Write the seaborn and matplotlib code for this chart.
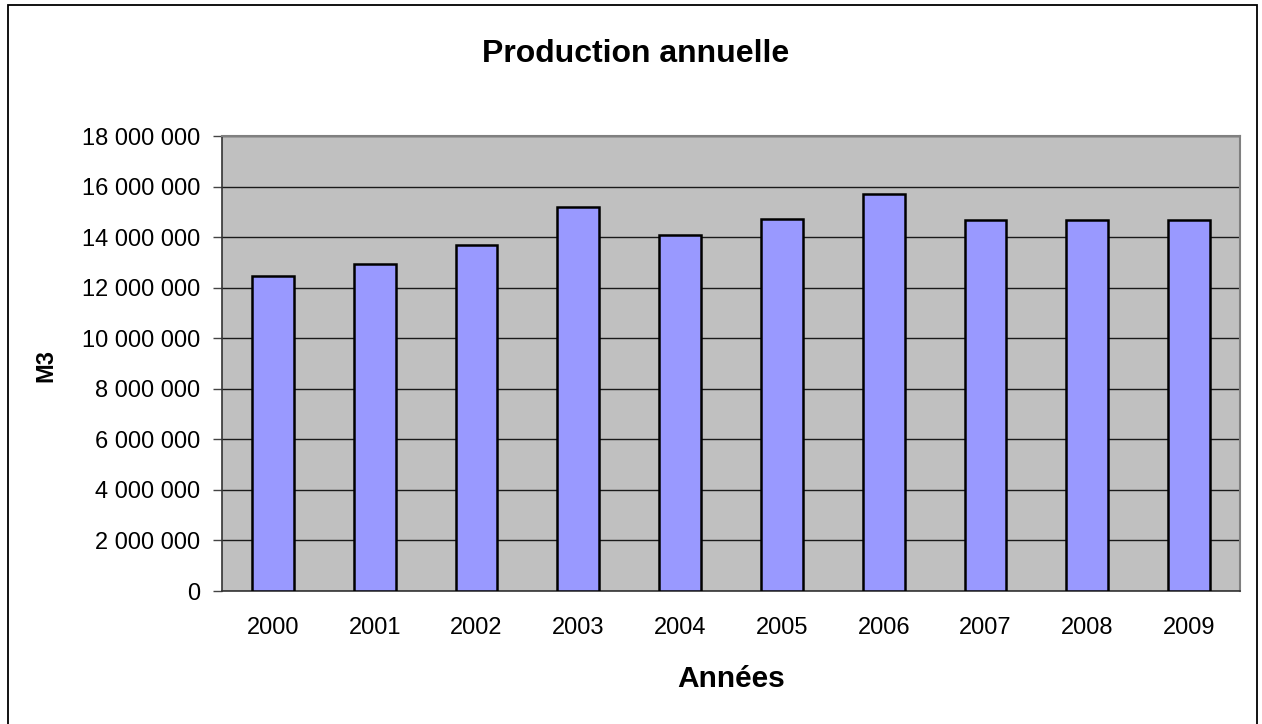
import numpy as np
import pandas as pd
import seaborn as sns
import matplotlib.pyplot as plt
from matplotlib.patches import Rectangle

# values
years = ["2000", "2001", "2002", "2003", "2004", "2005", "2006", "2007", "2008", "2009"]
production = [12480000, 12940000, 13670000, 15200000, 14080000,
              14730000, 15690000, 14660000, 14660000, 14660000]
y_ticks = np.arange(0, 18000001, 2000000)

df = pd.DataFrame({"annee": years, "m3": production})

sns.set_style("white")
plt.rcParams["font.family"] = ["Liberation Sans", "DejaVu Sans"]
plt.rcParams["text.color"] = "black"
plt.rcParams["xtick.color"] = "black"
plt.rcParams["ytick.color"] = "black"

fig = plt.figure(figsize=(12.62, 7.24), dpi=100)
ax = fig.add_axes([222 / 1262, 1 - 591 / 724, (1240 - 222) / 1262, (591 - 136) / 724])

sns.barplot(data=df, x="annee", y="m3", color="#9999FF", saturation=1,
            edgecolor="black", linewidth=1.8, width=0.41, ax=ax, zorder=3)

ax.set_facecolor("#C0C0C0")
ax.set_ylim(0, 18000000)
ax.set_xlim(-0.5, len(years) - 0.5)
ax.set_yticks(y_ticks)
ax.set_yticklabels([f"{int(v):,}".replace(",", " ") for v in y_ticks])
ax.yaxis.grid(True, color="#1a1a1a", linewidth=1.0, zorder=1)
ax.set_axisbelow(True)

# ticks between categories on the x axis
ax.set_xticks(np.arange(-0.5, len(years), 1), minor=True)
ax.tick_params(axis="x", which="major", length=0, pad=19, labelsize=17)
ax.tick_params(axis="x", which="minor", length=6.5, width=1, color="#444444", direction="out")
ax.tick_params(axis="y", length=6.5, width=1, color="#444444", pad=9, labelsize=17, left=True)

for side in ["left", "bottom"]:
    ax.spines[side].set_color("#333333")
    ax.spines[side].set_linewidth(1.2)
for side in ["top", "right"]:
    ax.spines[side].set_color("#808080")
    ax.spines[side].set_linewidth(1.5)

ax.set_xlabel("")
ax.set_ylabel("")

fig.text(636 / 1262, 1 - 54 / 724, "Production annuelle", ha="center", va="center",
         fontsize=23, fontweight="bold")
fig.text(731 / 1262, 1 - 679 / 724, "Années", ha="center", va="center",
         fontsize=21.5, fontweight="bold")
fig.text(46 / 1262, 1 - 365 / 724, "M3", ha="center", va="center", rotation=90,
         fontsize=17, fontweight="bold")

# outer chart frame
fig.patches.append(Rectangle((8 / 1262, -0.02), (1257 - 8) / 1262, 1 - 5 / 724 + 0.02,
                             transform=fig.transFigure, fill=False,
                             edgecolor="black", linewidth=1.3, clip_on=False))

fig.savefig("out.png", dpi=100)
